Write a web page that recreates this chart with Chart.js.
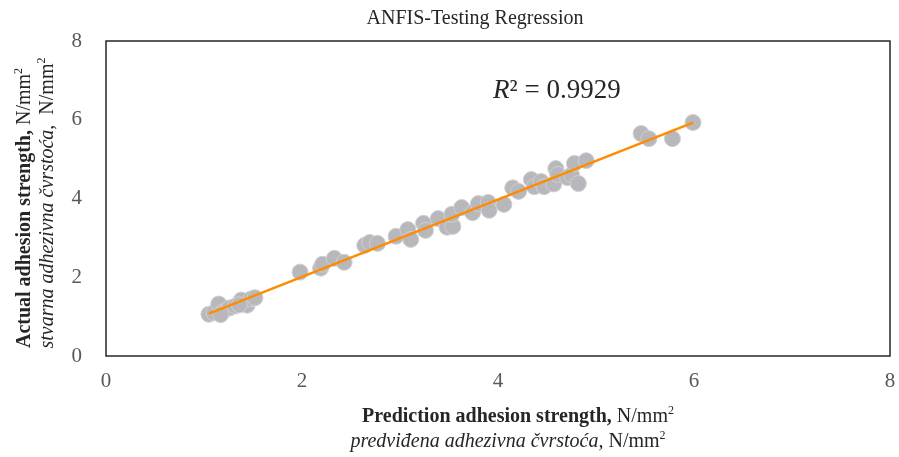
<!DOCTYPE html>
<html>
<head>
<meta charset="utf-8">
<script src="https://cdn.jsdelivr.net/npm/chart.js@4/dist/chart.umd.min.js"></script>
<style>
  html, body { margin: 0; padding: 0; background: #fff; }
  #wrap { width: 899px; height: 457px; position: relative; }
</style>
</head>
<body>
<div id="wrap"><canvas id="chartRegression"></canvas></div>
<script>
// predicted (x) vs actual (y) adhesion strength, N/mm2
const predicted = [1.05, 1.10, 1.15, 1.19, 1.26, 1.32, 1.38, 1.44, 1.48, 1.52, 1.17, 1.36,
    1.98, 2.19, 2.21, 2.33, 2.43, 2.64, 2.69, 2.77, 2.96, 3.08, 3.11, 3.24, 3.26, 3.39,
    3.48, 3.54, 3.53, 3.63, 3.74, 3.80, 3.90, 3.91, 4.06, 4.15, 4.21, 4.34, 4.37, 4.44,
    4.47, 4.57, 4.59, 4.61, 4.71, 4.75, 4.78, 4.82, 4.90, 5.46, 5.54, 5.78, 5.99];
const actual = [1.06, 1.10, 1.32, 1.12, 1.22, 1.27, 1.42, 1.29, 1.45, 1.48, 1.05, 1.30,
    2.13, 2.23, 2.33, 2.48, 2.38, 2.81, 2.88, 2.86, 3.04, 3.21, 2.96, 3.37, 3.19, 3.49,
    3.27, 3.29, 3.60, 3.77, 3.64, 3.87, 3.90, 3.70, 3.85, 4.27, 4.18, 4.48, 4.30, 4.43,
    4.30, 4.37, 4.76, 4.61, 4.53, 4.60, 4.89, 4.38, 4.96, 5.65, 5.52, 5.52, 5.93];
const axisTicks = [0, 2, 4, 6, 8];
const rSquared = "0.9929";

const serif = "'Liberation Serif', 'DejaVu Serif', serif";

// least squares trend line over the data range
function trendLine(xs, ys) {
    const n = xs.length;
    const mx = xs.reduce((a, b) => a + b, 0) / n;
    const my = ys.reduce((a, b) => a + b, 0) / n;
    let sxy = 0, sxx = 0;
    for (let i = 0; i < n; i++) {
        sxy += (xs[i] - mx) * (ys[i] - my);
        sxx += (xs[i] - mx) * (xs[i] - mx);
    }
    const b = sxy / sxx, a = my - b * mx;
    const x0 = Math.min(...xs), x1 = Math.max(...xs);
    return [{ x: x0, y: a + b * x0 }, { x: x1, y: a + b * x1 }];
}

// draws text pieces one after another on the same baseline
function drawPieces(ctx, pieces, x, y, align) {
    let total = 0;
    pieces.forEach(p => { ctx.font = p.font; total += ctx.measureText(p.text).width; });
    let cx = align === 'center' ? x - total / 2 : x;
    pieces.forEach(p => {
        ctx.font = p.font;
        ctx.fillText(p.text, cx, y + (p.dy || 0));
        cx += ctx.measureText(p.text).width;
    });
}

function unitPieces(lead, leadFont) {
    return [
        { text: lead, font: leadFont },
        { text: ' N/mm', font: '20px ' + serif },
        { text: '2', font: '12px ' + serif, dy: -8 }
    ];
}

const labelsPlugin = {
    id: 'labelsPlugin',
    afterDraw(chart) {
        const ctx = chart.ctx;
        const area = chart.chartArea;
        const xs = chart.scales.x, ys = chart.scales.y;
        ctx.save();
        // plot frame
        ctx.strokeStyle = '#262626';
        ctx.lineWidth = 1.5;
        ctx.strokeRect(area.left, area.top, area.right - area.left, area.bottom - area.top);

        ctx.fillStyle = '#262626';
        ctx.textAlign = 'left';
        ctx.textBaseline = 'alphabetic';

        // title
        drawPieces(ctx, [{ text: 'ANFIS-Testing Regression', font: '20px ' + serif }], 475, 24, 'center');

        // R squared
        drawPieces(ctx, [
            { text: 'R', font: 'italic 27px ' + serif },
            { text: '² = ' + rSquared, font: '27px ' + serif }
        ], xs.getPixelForValue(3.95), ys.getPixelForValue(6.55), 'left');

        // x axis title
        drawPieces(ctx, unitPieces('Prediction adhesion strength,', 'bold 20px ' + serif), 518, 422, 'center');
        drawPieces(ctx, unitPieces('predviđena adhezivna čvrstoća,', 'italic 20px ' + serif), 508, 447, 'center');

        // y axis title (rotated)
        ctx.save();
        ctx.translate(30, 208);
        ctx.rotate(-Math.PI / 2);
        drawPieces(ctx, unitPieces('Actual adhesion strength,', 'bold 20px ' + serif), 0, 0, 'center');
        ctx.restore();
        ctx.save();
        ctx.translate(53, 203);
        ctx.rotate(-Math.PI / 2);
        drawPieces(ctx, unitPieces('stvarna adhezivna čvrstoća, ', 'italic 20px ' + serif), 0, 0, 'center');
        ctx.restore();
        ctx.restore();
    }
};

const points = predicted.map((x, i) => ({ x: x, y: actual[i] }));

new Chart(document.getElementById('chartRegression'), {
    type: 'scatter',
    data: {
        datasets: [{
            label: 'Trend',
            type: 'line',
            data: trendLine(predicted, actual),
            borderColor: '#ff8c00',
            borderWidth: 2.5,
            pointRadius: 0,
            fill: false,
            order: 0
        }, {
            label: 'ANFIS testing',
            data: points,
            backgroundColor: '#b8b8bc',
            borderColor: '#d0d0d3',
            borderWidth: 1,
            pointRadius: 8,
            order: 1
        }]
    },
    options: {
        responsive: true,
        maintainAspectRatio: false,
        animation: false,
        layout: { padding: { left: 0, top: 41, right: 0, bottom: 0 } },
        plugins: {
            legend: { display: false },
            tooltip: { enabled: false },
            title: { display: false }
        },
        scales: {
            x: {
                type: 'linear',
                min: 0,
                max: 8,
                afterBuildTicks: s => { s.ticks = axisTicks.map(v => ({ value: v })); },
                afterFit: s => { s.height = 101; s.paddingLeft = 0; s.paddingRight = 0; },
                grid: { display: false, drawTicks: false },
                border: { display: false },
                ticks: { color: '#595959', font: { family: serif, size: 21 }, padding: 13 }
            },
            y: {
                type: 'linear',
                min: 0,
                max: 8,
                afterBuildTicks: s => { s.ticks = axisTicks.map(v => ({ value: v })); },
                afterFit: s => { s.width = 106; s.paddingTop = 0; s.paddingBottom = 0; },
                grid: { display: false, drawTicks: false },
                border: { display: false },
                ticks: { color: '#595959', font: { family: serif, size: 21 }, padding: 24 }
            }
        }
    }
    ,
    plugins: [labelsPlugin]
});
</script>
</body>
</html>
